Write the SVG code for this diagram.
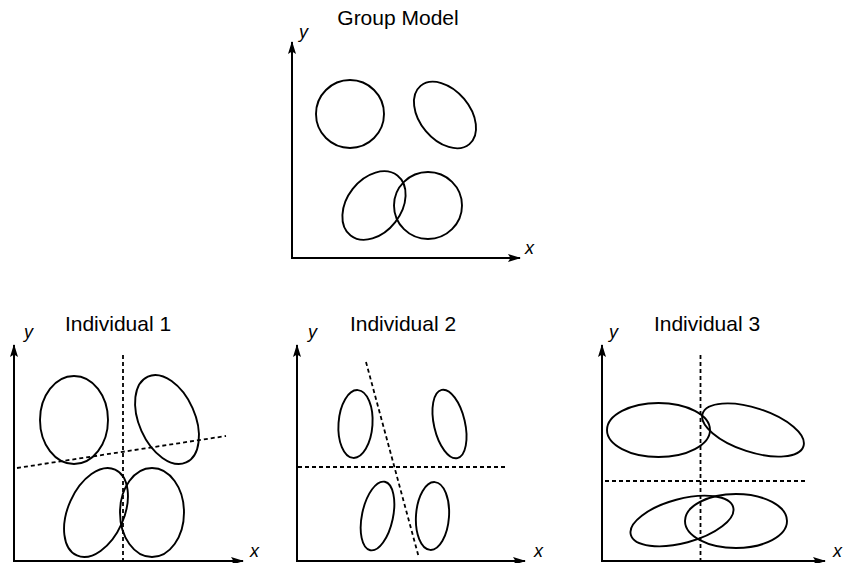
<svg xmlns="http://www.w3.org/2000/svg" width="853" height="563" viewBox="0 0 853 563">
<defs>
<marker id="arr" markerUnits="userSpaceOnUse" markerWidth="14" markerHeight="10" refX="12" refY="4" orient="auto">
<path d="M0,0 L13,4 L0,8 L2.5,4 z" fill="#000"/>
</marker>
<style>
.ax{stroke:#000;stroke-width:2;fill:none;marker-end:url(#arr)}
.el{stroke:#000;stroke-width:1.9;fill:none}
.dash{stroke:#000;stroke-width:1.8;fill:none;stroke-dasharray:4 3}
.title{font-family:"Liberation Sans",Arial,sans-serif;font-size:21px;fill:#000;text-anchor:middle}
.lab{font-family:"Liberation Sans",Arial,sans-serif;font-size:18px;font-style:italic;fill:#000}
</style>
</defs>
<rect width="853" height="563" fill="#fff"/>

<g id="group-model">
<text class="title" x="398" y="25">Group Model</text>
<text class="lab" x="299" y="38">y</text>
<text class="lab" x="525" y="254">x</text>
<line class="ax" x1="292" y1="258" x2="292" y2="42"/>
<line class="ax" x1="291" y1="258" x2="520" y2="258"/>
<ellipse class="el" cx="350" cy="114" rx="34" ry="34"/>
<ellipse class="el" cx="445" cy="115" rx="25" ry="38" transform="rotate(-40 445 115)"/>
<ellipse class="el" cx="374" cy="205.5" rx="27" ry="38" transform="rotate(38 374 205.5)"/>
<ellipse class="el" cx="428" cy="205.5" rx="34" ry="33.5"/>
</g>

<g id="individual-1">
<text class="title" x="118" y="331">Individual 1</text>
<text class="lab" x="24" y="338">y</text>
<text class="lab" x="250" y="557">x</text>
<line class="ax" x1="14" y1="562" x2="14" y2="345"/>
<line class="ax" x1="13" y1="561" x2="243" y2="561"/>
<line class="dash" x1="123" y1="355" x2="123" y2="561"/>
<line class="dash" x1="17" y1="468" x2="226" y2="436"/>
<ellipse class="el" cx="74" cy="420" rx="34" ry="44"/>
<ellipse class="el" cx="167" cy="419.5" rx="28" ry="47" transform="rotate(-24 167 419.5)"/>
<ellipse class="el" cx="96" cy="512.5" rx="28" ry="47" transform="rotate(24 96 512.5)"/>
<ellipse class="el" cx="152" cy="512.5" rx="32" ry="44.5"/>
</g>

<g id="individual-2">
<text class="title" x="403" y="331">Individual 2</text>
<text class="lab" x="308" y="338">y</text>
<text class="lab" x="534" y="557">x</text>
<line class="ax" x1="297" y1="562" x2="297" y2="345"/>
<line class="ax" x1="296" y1="561" x2="525" y2="561"/>
<line class="dash" x1="298" y1="467" x2="507" y2="467"/>
<line class="dash" x1="366" y1="362" x2="419" y2="558"/>
<ellipse class="el" cx="355.5" cy="424" rx="17" ry="34" transform="rotate(4 355.5 424)"/>
<ellipse class="el" cx="449.5" cy="424" rx="15.5" ry="35" transform="rotate(-13 449.5 424)"/>
<ellipse class="el" cx="377.5" cy="516" rx="15.5" ry="35" transform="rotate(12 377.5 516)"/>
<ellipse class="el" cx="432.5" cy="516" rx="16.5" ry="34" transform="rotate(4 432.5 516)"/>
</g>

<g id="individual-3">
<text class="title" x="707" y="331">Individual 3</text>
<text class="lab" x="609" y="338">y</text>
<text class="lab" x="833" y="557">x</text>
<line class="ax" x1="602" y1="562" x2="602" y2="345"/>
<line class="ax" x1="601" y1="561" x2="825" y2="561"/>
<line class="dash" x1="700.5" y1="355" x2="700.5" y2="561"/>
<line class="dash" x1="605" y1="481" x2="808" y2="481"/>
<ellipse class="el" cx="658.5" cy="430" rx="51.5" ry="27"/>
<ellipse class="el" cx="753" cy="430" rx="53" ry="22" transform="rotate(18 753 430)"/>
<ellipse class="el" cx="682" cy="521" rx="53" ry="22" transform="rotate(-15 682 521)"/>
<ellipse class="el" cx="736" cy="521" rx="51" ry="27"/>
</g>

<g id="connectors"></g>
</svg>
